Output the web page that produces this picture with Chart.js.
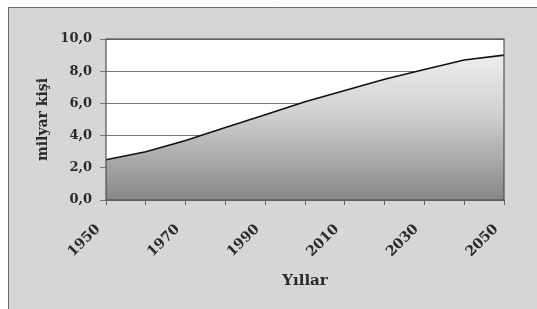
<!DOCTYPE html>
<html>
<head>
<meta charset="utf-8">
<script src="https://cdn.jsdelivr.net/npm/chart.js@4"></script>
<style>
  html, body { margin: 0; padding: 0; background: #fff; }
  #wrap { width: 537px; height: 309px; }
</style>
</head>
<body>
<div id="wrap"><canvas id="chart" width="537" height="309"></canvas></div>
<script>
const years = ['1950','1960','1970','1980','1990','2000','2010','2020','2030','2040','2050'];
const population = [2.5, 3.0, 3.7, 4.5, 5.3, 6.1, 6.8, 7.5, 8.1, 8.7, 9.0];
const yTitle = 'milyar kişi';
const xTitle = 'Yıllar';

const font = 'DejaVu Serif';

// gray scanned-page backdrop plus white plot panel
const backdrop = {
  id: 'backdrop',
  beforeDraw(chart) {
    const { ctx, chartArea: a, width, height } = chart;
    ctx.save();
    ctx.fillStyle = '#ffffff';
    ctx.fillRect(0, 0, width, height);
    ctx.fillStyle = '#d6d6d6';
    ctx.fillRect(8, 7, width - 8, height - 7);
    ctx.strokeStyle = '#6a6a6a';
    ctx.lineWidth = 1;
    ctx.beginPath();
    ctx.moveTo(8, 7.5); ctx.lineTo(width, 7.5);
    ctx.moveTo(8.5, 7); ctx.lineTo(8.5, height);
    ctx.stroke();
    ctx.fillStyle = '#ffffff';
    ctx.fillRect(a.left, a.top, a.right - a.left, a.bottom - a.top);
    ctx.restore();
  },
  afterDatasetsDraw(chart) {
    const { ctx, chartArea: a } = chart;
    ctx.save();
    ctx.strokeStyle = '#505050';
    ctx.lineWidth = 1.2;
    ctx.strokeRect(a.left, a.top, a.right - a.left, a.bottom - a.top);
    ctx.restore();
  }
};

new Chart(document.getElementById('chart'), {
  type: 'line',
  data: {
    labels: years,
    datasets: [{
      data: population,
      borderColor: '#111111',
      borderWidth: 1.6,
      pointRadius: 0,
      tension: 0,
      fill: 'origin',
      backgroundColor: (c) => {
        const a = c.chart.chartArea;
        if (!a) return '#bbbbbb';
        const g = c.chart.ctx.createLinearGradient(0, a.top, 0, a.bottom);
        g.addColorStop(0, '#f4f4f4');
        g.addColorStop(0.45, '#d2d2d2');
        g.addColorStop(1, '#878787');
        return g;
      }
    }]
  },
  options: {
    responsive: false,
    animation: false,
    layout: { padding: { left: 35, right: 33, top: 39, bottom: 19 } },
    plugins: { legend: { display: false }, tooltip: { enabled: false } },
    scales: {
      x: {
        offset: false,
        afterFit: (s) => { s.height = 90; s.paddingRight = 0; s.paddingLeft = 0; },
        grid: { drawOnChartArea: false, color: '#666', tickLength: 5 },
        border: { display: false },
        ticks: {
          autoSkip: false,
          minRotation: 45,
          maxRotation: 45,
          padding: 16,
          labelOffset: -8,
          color: '#2a2a2a',
          font: { family: font, size: 14, weight: 'bold' },
          callback: (v, i) => i % 2 === 0 ? years[i] : ''
        },
        title: {
          display: true,
          text: xTitle,
          color: '#2a2a2a',
          font: { family: font, size: 15, weight: 'bold' },
          padding: 0
        }
      },
      y: {
        min: 0,
        max: 10,
        afterFit: (s) => { s.width = 71; },
        grid: { color: '#7a7a7a', lineWidth: 1, tickLength: 6 },
        border: { display: false },
        ticks: {
          stepSize: 2,
          padding: 8,
          color: '#2a2a2a',
          font: { family: font, size: 13, weight: 'bold' },
          callback: (v) => v.toFixed(1).replace('.', ',')
        },
        title: {
          display: true,
          text: yTitle,
          color: '#2a2a2a',
          font: { family: font, size: 14, weight: 'bold' },
          padding: 0
        }
      }
    }
  },
  plugins: [backdrop]
});
</script>
</body>
</html>
